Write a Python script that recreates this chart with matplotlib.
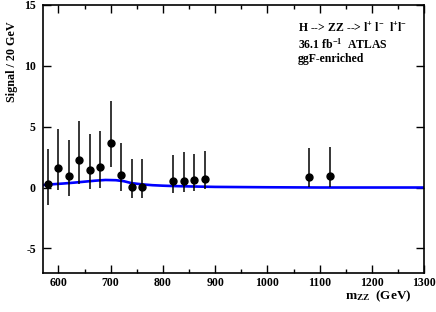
import numpy as np
from matplotlib import pyplot as plt
from matplotlib.ticker import MultipleLocator

# signal per 20 GeV bin, asymmetric errors
mzz = [580, 600, 620, 640, 660, 680, 700, 720, 740, 760, 820, 840, 860, 880, 1080, 1120]
signal = [0.27, 1.64, 0.95, 2.24, 1.47, 1.69, 3.66, 1.05, 0.05, 0.05, 0.5, 0.54, 0.6, 0.68, 0.88, 0.95]
err_hi = [3.20, 4.84, 3.88, 5.43, 4.43, 4.61, 7.10, 3.69, 2.38, 2.35, 2.65, 2.89, 2.78, 3.00, 3.25, 3.30]
err_lo = [-1.45, -0.22, -0.71, 0.25, -0.16, -0.03, 1.70, -0.30, -0.85, -0.88, -0.41, -0.36, -0.28, -0.16, 0.05, 0.05]

# expected signal curve
curve_x = [570, 590, 610, 630, 650, 670, 690, 710, 725, 740, 760, 780, 800, 820, 850, 900, 1000, 1100, 1300]
curve_y = [0.2, 0.27, 0.33, 0.4, 0.48, 0.56, 0.62, 0.6, 0.52, 0.36, 0.26, 0.19, 0.15, 0.12, 0.09, 0.05, 0.02, 0.0, 0.0]

plt.rcParams['font.family'] = ['Liberation Serif', 'DejaVu Serif']
plt.rcParams['font.weight'] = 'bold'
plt.rcParams['mathtext.fontset'] = 'custom'
plt.rcParams['mathtext.rm'] = 'Liberation Serif:bold'
plt.rcParams['mathtext.bf'] = 'Liberation Serif:bold'
plt.rcParams['mathtext.it'] = 'Liberation Serif:bold'
plt.rcParams['axes.unicode_minus'] = False

fig = plt.figure(figsize=(4.36, 3.12), dpi=100)
ax = fig.add_axes([0.098, 0.126, 0.875, 0.858])

ax.plot(curve_x, curve_y, color='#0000ff', lw=1.9, zorder=2)

y = np.array(signal)
yerr = [y - np.array(err_lo), np.array(err_hi) - y]
ax.errorbar(mzz, signal, yerr=yerr, fmt='o', color='black', ms=5, elinewidth=1.1,
            capsize=0, zorder=3)

ax.set_xlim(570, 1300)
ax.set_ylim(-7, 15)
ax.xaxis.set_major_locator(MultipleLocator(100))
ax.xaxis.set_minor_locator(MultipleLocator(50))
ax.set_yticks([-5, 0, 5, 10, 15])
ax.tick_params(which='both', direction='in', top=True, right=True, labelsize=8.5, width=1)
ax.tick_params(which='major', length=6, pad=5)
ax.tick_params(axis='x', which='major', pad=3)
ax.tick_params(which='minor', length=3)
for lab in ax.get_xticklabels() + ax.get_yticklabels():
    lab.set_fontweight('bold')
for s in ax.spines.values():
    s.set_linewidth(1.2)

ax.set_ylabel('Signal / 20 GeV', fontsize=8.7, fontweight='bold')
ax.yaxis.set_label_coords(-0.066, 0.79)
ax.set_xlabel(r'm$_{\mathrm{ZZ}}$  (GeV)', fontsize=9.5, fontweight='bold')
ax.xaxis.set_label_coords(0.88, -0.06)

ax.text(1058, 13.1, r'H --> ZZ --> l$^{+}$ l$^{-}$  l$^{+}$l$^{-}$',
        fontsize=8.5, fontweight='bold', va='center')
ax.text(1058, 11.8, r'36.1 fb$^{-1}$  ATLAS', fontsize=8.5, fontweight='bold', va='center')
ax.text(1058, 10.6, 'ggF-enriched', fontsize=8.5, fontweight='bold', va='center')

fig.savefig('out.png', dpi=100)
